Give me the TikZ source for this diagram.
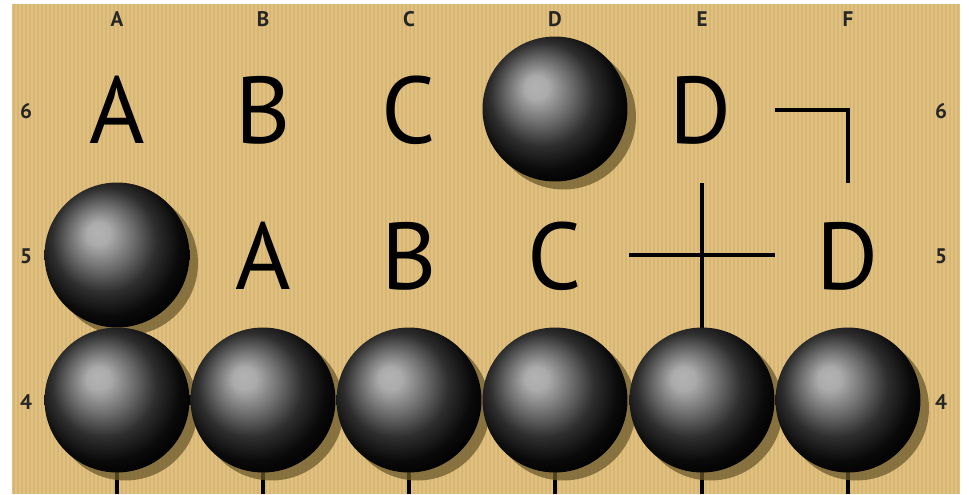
\documentclass[tikz,border=0pt]{standalone}
\usepackage{fontspec}
\setmainfont{PT Sans}
\usepackage{xcolor}
\usepackage{tikz}
\usetikzlibrary{shadows}

\definecolor{boardtan}{RGB}{226,192,126}
\definecolor{stoneshade}{RGB}{108,90,44}

% highlight sits up and left of the stone centre
\pgfdeclareradialshading{gostone}{\pgfqpoint{-7bp}{8bp}}{%
  color(0bp)=(black!30); color(4bp)=(black!33); color(11bp)=(black!57);
  color(18bp)=(black!82); color(25bp)=(black!96); color(30bp)=(black);
  color(50bp)=(black)}

\begin{document}
\begin{tikzpicture}[
  x=0.02cm, y=-0.02cm,
  stone/.style={
    circle, minimum size=2.9cm, inner sep=0pt, shading=gostone,
    drop shadow={shadow xshift=0.17cm, shadow yshift=-0.16cm,
                 fill=stoneshade, opacity=0.75}
  },
  bigmark/.style={font=\fontsize{54}{54}\selectfont, inner sep=0pt},
  coordlbl/.style={font=\bfseries\fontsize{12}{12}\selectfont, text=black!85, inner sep=0pt},
  gridline/.style={line width=2.3pt, black}
]

\useasboundingbox (0,0) rectangle (969,494);
\fill[white] (0,0) rectangle (969,494);
\fill[boardtan] (12,4) rectangle (960,494);

% --- wood grain ---
\foreach \x in {14,18,...,958}
  \draw[black, opacity=0.05, line width=0.8pt] (\x,4) -- (\x,494);

% --- column and row labels ---
\foreach \c/\x in {A/117, B/263, C/409, D/555, E/702, F/848}
  \node[coordlbl] (top-\c) at (\x,19) {\c};
\foreach \r/\y in {6/111, 5/256, 4/402} {
  \node[coordlbl] (left-\r)  at (26,\y)  {\r};
  \node[coordlbl] (right-\r) at (941,\y) {\r};
}

% --- points on the board ---
\coordinate (e5)  at (702,255);
\coordinate (e5w) at (629,255);
\coordinate (e5e) at (775,255);
\coordinate (e5n) at (702,183);
\coordinate (f6)  at (848,110);
\coordinate (f6w) at (775,110);
\coordinate (f6s) at (848,183);
\foreach \c/\x in {a/117, b/263, c/409, d/555, e/702, f/848}
  \coordinate (\c-edge) at (\x,494);

% --- grid lines (under the stones) ---
\foreach \c/\x in {a/117, b/263, c/409, d/555, e/702, f/848}
  \draw[gridline] (\x,400) -- (\c-edge);
\draw[gridline] (e5w) -- (e5e);
\draw[gridline] (e5n) -- (702,400);
\draw[gridline] (f6w) -- (f6) -- (f6s);

% --- stones ---
\node[stone] (d6) at (555,109) {};
\node[stone] (a5) at (117,255) {};
\foreach \c/\x in {a/117, b/263, c/409, d/555, e/702, f/848}
  \node[stone] (\c4) at (\x,400) {};

% --- letter marks ---
\node[bigmark] (mark-a6) at (117,110) {A};
\node[bigmark] (mark-b6) at (263,110) {B};
\node[bigmark] (mark-c6) at (409,110) {C};
\node[bigmark] (mark-e6) at (701,110) {D};
\node[bigmark] (mark-b5) at (263,256) {A};
\node[bigmark] (mark-c5) at (409,256) {B};
\node[bigmark] (mark-d5) at (555,256) {C};
\node[bigmark] (mark-f5) at (848,256) {D};

\end{tikzpicture}
\end{document}
